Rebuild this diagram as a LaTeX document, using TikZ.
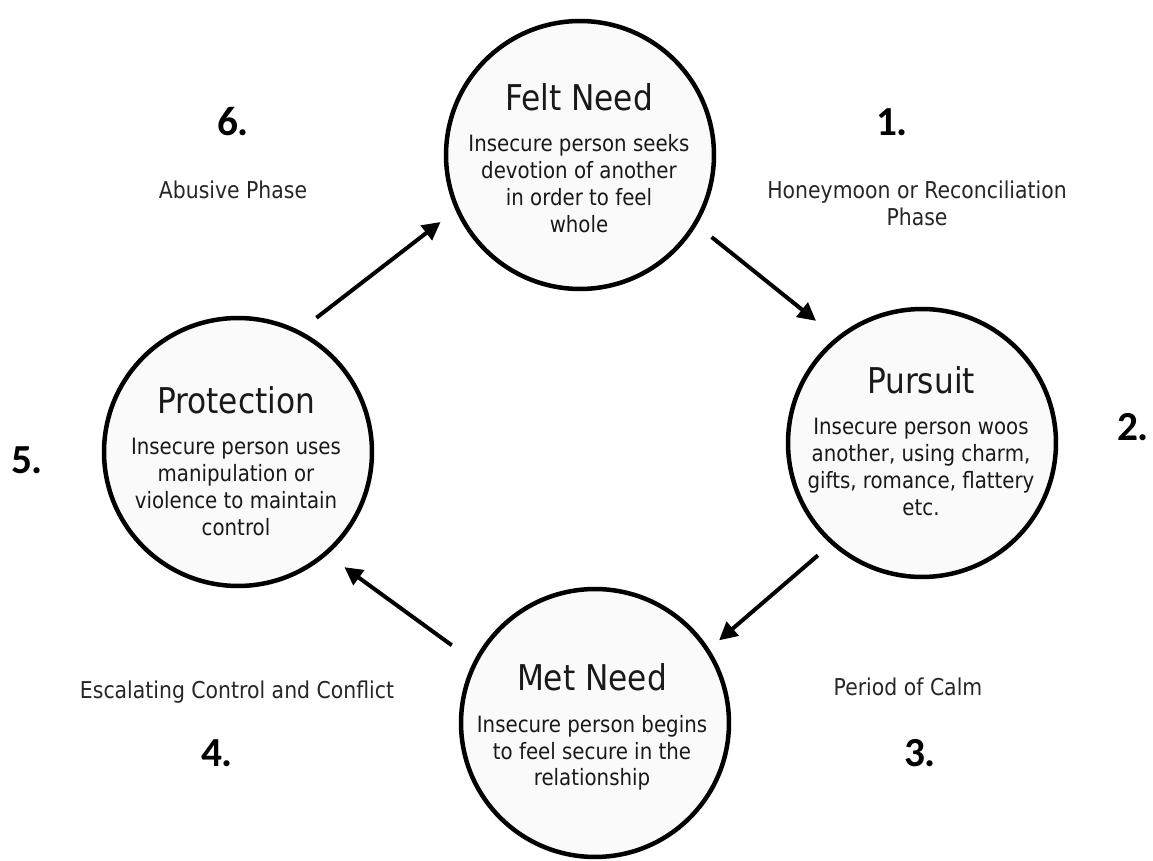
\documentclass[tikz,border=0pt]{standalone}
\usepackage{fontspec}
\setmainfont{DejaVu Sans}[FakeStretch=0.88]
\newfontfamily\numfont{Carlito}
\usetikzlibrary{arrows.meta}
\newcommand\stagetitle{\fontsize{20.2}{22}\selectfont}

\begin{document}
\begin{tikzpicture}[x=0.02cm, y=-0.02cm,
    stage/.style={circle, draw=black, line width=0.09cm, fill=gray!4, minimum size=5.36cm, inner sep=0pt},
    stagetext/.style={align=center, text=black!90, font=\fontsize{12.8}{15.3}\selectfont},
    phasetext/.style={align=center, text=black!85, font=\fontsize{13.2}{15.3}\selectfont},
    stepnum/.style={font=\numfont\bfseries\fontsize{23.5}{26}\selectfont},
    flow/.style={line width=0.08cm, -{Triangle[length=0.36cm, width=0.36cm]}}]
    \useasboundingbox (0,0) rectangle (1153,861);

    % Circles of the cycle
    \node[stage] (felt) at (580,155) {};
    \node[stage] (pursuit) at (922,443) {};
    \node[stage] (met) at (595,723) {};
    \node[stage] (protect) at (238,452) {};

    % Text inside the circles
    \node[stagetext] (felttext) at (579,158) {{\stagetitle Felt Need}\\[8.5pt]Insecure person seeks\\devotion of another\\in order to feel\\whole};
    \node[stagetext] (pursuittext) at (921,441) {{\stagetitle Pursuit}\\[8.5pt]Insecure person woos\\another, using charm,\\gifts, romance, flattery\\etc.};
    \node[stagetext] (mettext) at (592,727) {{\stagetitle Met Need}\\[8.5pt]Insecure person begins\\to feel secure in the\\relationship};
    \node[stagetext] (protecttext) at (236,461) {{\stagetitle Protection}\\[8.5pt]Insecure person uses\\manipulation or\\violence to maintain\\control};

    % Arrows between the stages
    \draw[flow, shorten <=0.38cm, shorten >=0.52cm] (felt.-31) -- (pursuit.129);
    \draw[flow, shorten <=0.34cm, shorten >=0.26cm] (pursuit.228) -- (met.33);
    \draw[flow, shorten <=0.54cm, shorten >=0.42cm] (met.153) -- (protect.-49);
    \draw[flow, shorten <=0.42cm, shorten >=0.38cm] (protect.63) -- (felt.204);

    % Phase names
    \node[phasetext] (abusive) at (233,190) {Abusive Phase};
    \node[phasetext] (honeymoon) at (917,203) {Honeymoon or Reconciliation\\Phase};
    \node[phasetext] (calm) at (908,687) {Period of Calm};
    \node[phasetext] (escalate) at (237,692) {Escalating Control and Conflict};

    % Step numbers
    \node[stepnum] (n1) at (892,122) {1.};
    \node[stepnum] (n2) at (1133,427) {2.};
    \node[stepnum] (n3) at (920,753) {3.};
    \node[stepnum] (n4) at (217,753) {4.};
    \node[stepnum] (n5) at (27,460) {5.};
    \node[stepnum] (n6) at (233,122) {6.};
\end{tikzpicture}
\end{document}
